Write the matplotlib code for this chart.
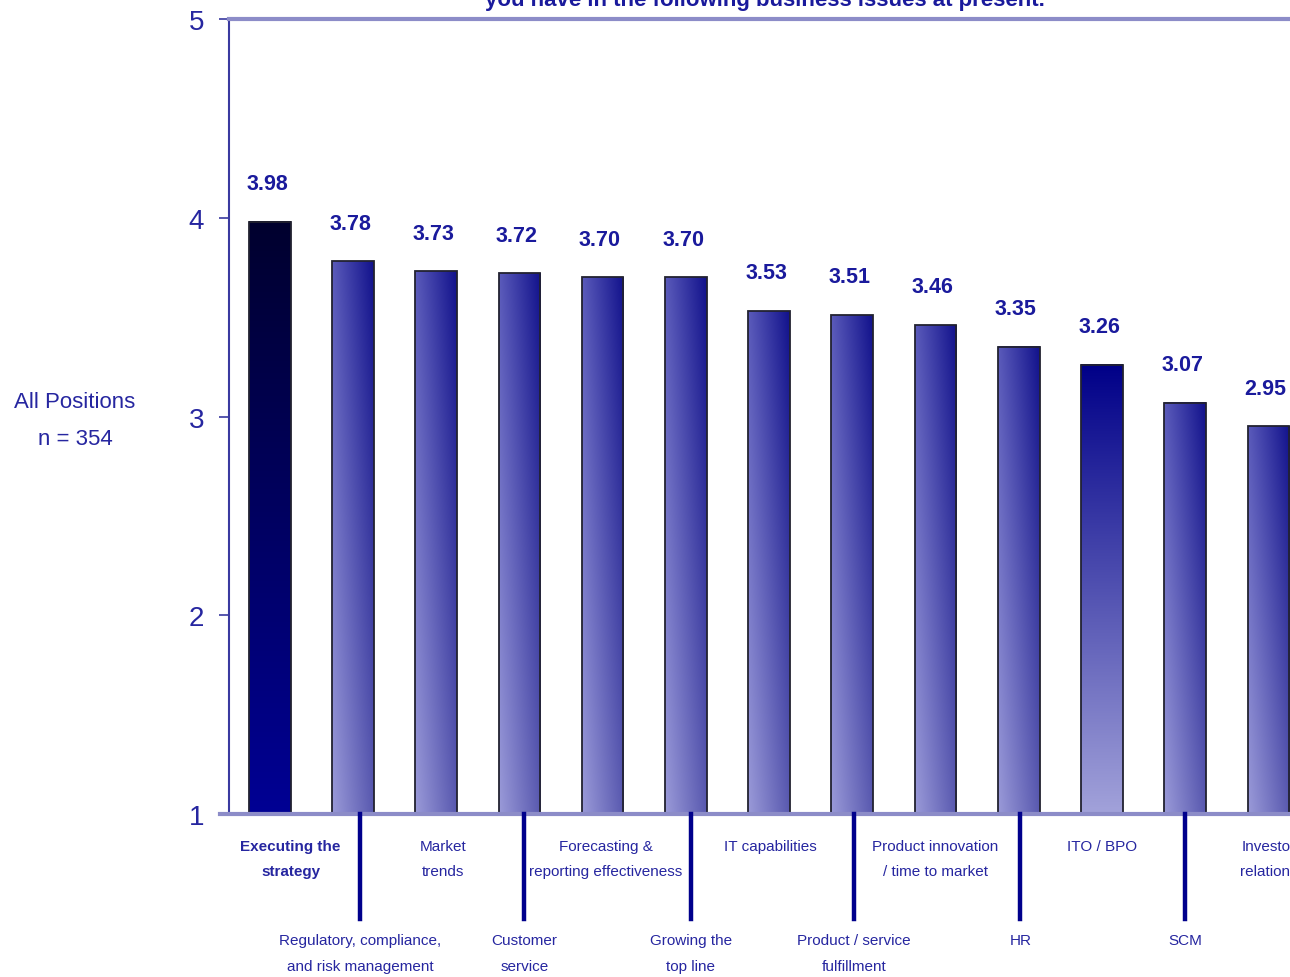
import numpy as np
import matplotlib
matplotlib.use('Agg')
import matplotlib.pyplot as plt
from matplotlib.colors import to_rgb

plt.rcParams['font.family'] = ['Liberation Sans Narrow', 'Liberation Sans', 'DejaVu Sans']

# data
categories = ['Executing the\nstrategy', 'Regulatory, compliance,\nand risk management',
              'Market\ntrends', 'Customer\nservice', 'Forecasting &\nreporting effectiveness',
              'Growing the\ntop line', 'IT capabilities', 'Product / service\nfulfillment',
              'Product innovation\n/ time to market', 'HR', 'ITO / BPO', 'SCM',
              'Investor\nrelations']
values = [3.98, 3.78, 3.73, 3.72, 3.70, 3.70, 3.53, 3.51, 3.46, 3.35, 3.26, 3.07, 2.95]
value_labels = ['3.98', '3.78', '3.73', '3.72', '3.70', '3.70', '3.53', '3.51', '3.46',
                '3.35', '3.26', '3.07', '2.95']
yticks = [1, 2, 3, 4, 5]
title = 'you have in the following business issues at present.'
side_label = 'All Positions\nn = 354'

NAVY = '#1a1a9c'
TEXT = '#2626a0'

# corner colours (top-left, top-right, bottom-left, bottom-right)
grad_normal = ['#5a5aba', '#12128c', '#9a9ad8', '#5a5ab0']
grad_first = ['#00002e', '#00002e', '#000094', '#000094']
grad_ito = ['#000088', '#000088', '#a2a2da', '#a2a2da']


def gradient(corners, ny=200, nx=40):
    tl, tr, bl, br = [np.array(to_rgb(c)) for c in corners]
    u = np.linspace(0, 1, nx)[None, :, None]
    v = np.linspace(0, 1, ny)[:, None, None]
    top = tl * (1 - u) + tr * u
    bot = bl * (1 - u) + br * u
    return top * (1 - v) + bot * v


fig = plt.figure(figsize=(12.9, 9.78), dpi=100)
ax = fig.add_axes([229 / 1290, 1 - 815 / 978, 1 - 229 / 1290, (815 - 20) / 978])

width = 0.5
base = yticks[0]
for i, v in enumerate(values):
    if i == 0:
        corners = grad_first
    elif categories[i] == 'ITO / BPO':
        corners = grad_ito
    else:
        corners = grad_normal
    ax.imshow(gradient(corners), extent=(i - width / 2, i + width / 2, base, v),
              aspect='auto', interpolation='bilinear', zorder=2)

ax.bar(range(len(values)), np.array(values) - base, bottom=base, width=width,
       fill=False, edgecolor='#222230', linewidth=1.3, zorder=3)

for i, (v, lab) in enumerate(zip(values, value_labels)):
    ax.annotate(lab, (i, v), xytext=(-2, 27.5), textcoords='offset points',
                ha='center', va='center', fontsize=15.5, fontweight='bold', color=NAVY)

ax.set_xlim(-0.49, 12.26)
ax.set_ylim(1, 5)
ax.set_xticks([])
ax.set_yticks(yticks)
ax.set_yticklabels([str(t) for t in yticks], fontsize=20, color=TEXT)
ax.tick_params(axis='y', length=7, width=1.2, color='#3a3aa0', pad=11)

for s in ['top', 'right', 'bottom']:
    ax.spines[s].set_visible(False)
ax.spines['left'].set_color('#3a3aa0')
ax.spines['left'].set_linewidth(1.5)

ax.axhline(5, color='#8c8cc8', lw=3, zorder=4, clip_on=False)
ax.plot([-0.6, 12.3], [1, 1], color='#8c8cc8', lw=3, zorder=4, clip_on=False)

# category labels, alternating upper / lower rows
xt = ax.get_xaxis_transform()
shift = [0.25, 0.09, 0.08, 0.06, 0.04, 0.06, 0.01, 0.02, 0.0, 0.02, 0.0, 0.0, 0.0]
for i, lab in enumerate(categories):
    x = i + shift[i]
    if i % 2 == 0:
        ax.text(x, -0.031, lab, transform=xt, ha='center', va='top', fontsize=11,
                color=TEXT, fontweight='bold' if i == 0 else 'normal',
                linespacing=2.05, clip_on=False)
    else:
        ax.plot([x, x], [0, -0.132], transform=xt, color='#00008c', lw=3.2,
                clip_on=False, zorder=5)
        ax.text(x, -0.15, lab, transform=xt, ha='center', va='top', fontsize=11,
                color=TEXT, linespacing=2.05, clip_on=False)

fig.text(75 / 1290, 1 - 421 / 978, side_label, ha='center', va='center',
         fontsize=16, color=TEXT, linespacing=1.95)
fig.text(765 / 1290, 1 - 6 / 978, title, ha='center', va='baseline',
         fontsize=16, fontweight='bold', color=NAVY)

fig.savefig('out.png', dpi=100)
